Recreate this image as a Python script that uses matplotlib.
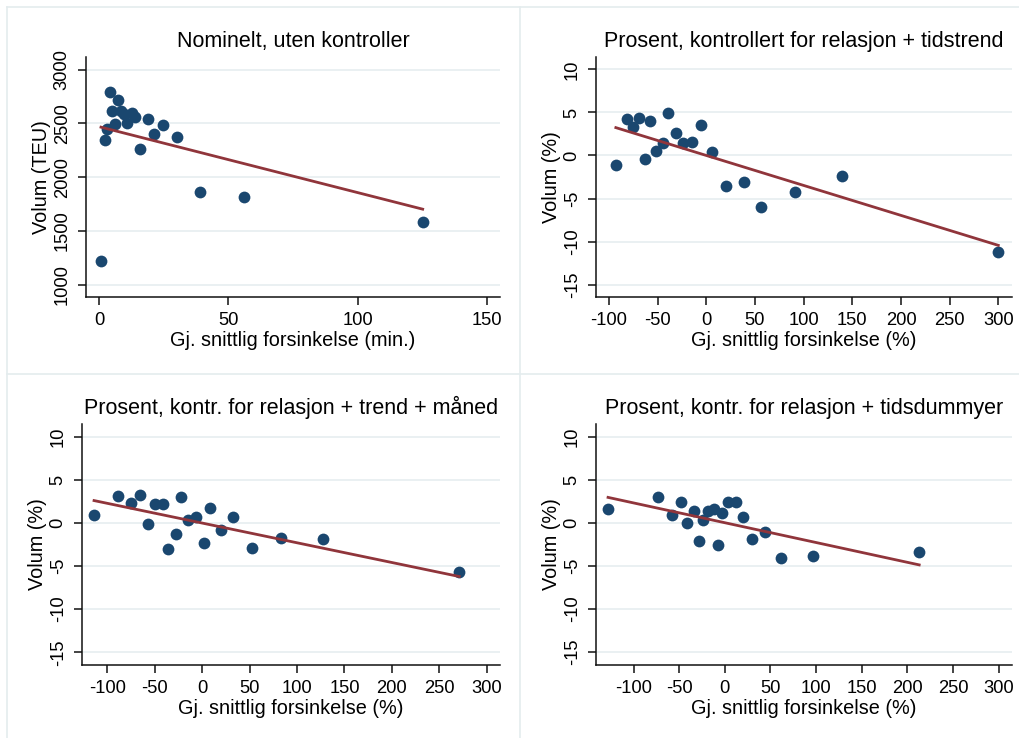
"""Forsinkelse og volum - fire paneler (Stata-stil scatter + lineær tilpasning)."""
import numpy as np
import matplotlib.pyplot as plt
from matplotlib.lines import Line2D

plt.rcParams["font.family"] = ["Liberation Sans", "DejaVu Sans"]
plt.rcParams["axes.unicode_minus"] = False

NAVY = "#1a476f"
MAROON = "#90353b"
GRID = "#e6eef0"
FRAME = "#e4ecee"

# --- data (lest av figuren) ---
p1_x = [0.8, 2.3, 3.1, 4.4, 5.1, 6.3, 7.3, 8.5, 9.8, 10.9,
        12.7, 14.0, 16.0, 18.9, 21.4, 24.6, 30.1, 38.9, 56.2, 125.2]
p1_y = [1215, 2350, 2450, 2790, 2620, 2490, 2720, 2620, 2590, 2500,
        2600, 2560, 2265, 2540, 2400, 2485, 2375, 1865, 1815, 1580]

p2_x = [-93, -82, -75, -69, -58, -63, -52, -45, -39, -31,
        -24, -15, -5.5, 6, 20, 39, 56, 91, 139, 300]
p2_y = [-1.1, 4.25, 3.3, 4.4, 4.0, -0.4, 0.5, 1.4, 4.95, 2.6,
        1.4, 1.6, 3.5, 0.45, -3.55, -3.05, -5.95, -4.25, -2.4, -11.2]

p3_x = [-114, -89, -75, -66, -57, -50, -41, -36, -28, -22,
        -15, -7, 1.5, 8.5, 20, 33, 53, 83, 127, 271]
p3_y = [0.9, 3.1, 2.3, 3.3, -0.1, 2.2, 2.2, -3.0, -1.3, 3.0,
        0.3, 0.7, -2.35, 1.7, -0.8, 0.65, -2.9, -1.75, -1.85, -5.65]

p4_x = [-128, -73, -58, -48, -41, -34, -28, -24, -18, -12,
        -7, -3, 4, 12, 19.5, 30, 44, 61, 97, 213]
p4_y = [1.65, 3.0, 0.95, 2.4, 0.0, 1.35, -2.05, 0.4, 1.4, 1.65,
        -2.6, 1.15, 2.45, 2.4, 0.75, -1.9, -1.1, -4.05, -3.8, -3.35]

# tilpasset linje (konstant, stigning) - lest av figuren
fit_intercept = [2470, 0.0, 0.0, 0.03]
fit_slope = [-6.135, -0.0348, -0.0229, -0.0230]

titles = [
    "Nominelt, uten kontroller",
    "Prosent, kontrollert for relasjon + tidstrend",
    "Prosent, kontr. for relasjon + trend + måned",
    "Prosent, kontr. for relasjon + tidsdummyer",
]
xlabels = ["Gj. snittlig forsinkelse (min.)"] + ["Gj. snittlig forsinkelse (%)"] * 3
ylabels = ["Volum (TEU)"] + ["Volum (%)"] * 3

xticks_nom = [0, 50, 100, 150]
yticks_nom = [1000, 1500, 2000, 2500, 3000]
xticks_pct = [-100, -50, 0, 50, 100, 150, 200, 250, 300]
yticks_pct = [-15, -10, -5, 0, 5, 10]

W, H = 1020, 738

# axes-rammer i piksler: (venstre, høyre, topp, bunn) og grenser
panels = [
    dict(x=p1_x, y=p1_y, box=(86, 500, 57, 297), xlim=(-5.0, 155.1),
         ylim=(884.6, 3118), xt=xticks_nom, yt=yticks_nom),
    dict(x=p2_x, y=p2_y, box=(596, 1012, 57, 297), xlim=(-113.4, 314.1),
         ylim=(-16.44, 11.44), xt=xticks_pct, yt=yticks_pct),
    dict(x=p3_x, y=p3_y, box=(82, 500, 424, 665), xlim=(-126.7, 314),
         ylim=(-16.48, 11.5), xt=xticks_pct, yt=yticks_pct),
    dict(x=p4_x, y=p4_y, box=(596, 1012, 424, 665), xlim=(-141.2, 314.7),
         ylim=(-16.5, 11.5), xt=xticks_pct, yt=yticks_pct),
]

fig = plt.figure(figsize=(W / 100, H / 100), dpi=100)

# lyse rammelinjer rundt delgrafene
for (x0, y0, x1, y1) in [(7, 7, W, 7), (7, 374, W, 374), (7, 7, 7, H), (520, 7, 520, H)]:
    fig.add_artist(Line2D([x0 / W, x1 / W], [1 - y0 / H, 1 - y1 / H],
                          color=FRAME, lw=1.2, transform=fig.transFigure))

for i, p in enumerate(panels):
    l, r, t, b = p["box"]
    ax = fig.add_axes([l / W, 1 - b / H, (r - l) / W, (b - t) / H])
    x = np.array(p["x"], dtype=float)
    y = np.array(p["y"], dtype=float)

    ax.scatter(x, y, s=72, color=NAVY, zorder=3, linewidths=0)
    xs = np.array([x.min(), x.max()])
    ax.plot(xs, fit_intercept[i] + fit_slope[i] * xs, color=MAROON, lw=2, zorder=4)

    ax.set_xlim(*p["xlim"])
    ax.set_ylim(*p["ylim"])
    ax.set_xticks(p["xt"])
    ax.set_yticks(p["yt"])
    for yv in p["yt"]:
        ax.axhline(yv, color=GRID, lw=1.2, zorder=0)

    for s in ["top", "right"]:
        ax.spines[s].set_visible(False)
    for s in ["left", "bottom"]:
        ax.spines[s].set_linewidth(1.1)
        ax.spines[s].set_color("#111111")

    ax.tick_params(axis="both", direction="out", length=6, width=1.1,
                   labelsize=13.2, pad=5, color="#111111")
    plt.setp(ax.get_yticklabels(), rotation=90, va="center")

    ax.set_title(titles[i], fontsize=15.5, pad=7)
    ax.set_xlabel(xlabels[i], fontsize=14.3, labelpad=1)
    ax.set_ylabel(ylabels[i], fontsize=14.3, labelpad=2)

fig.savefig("out.png", dpi=100, facecolor="white")
